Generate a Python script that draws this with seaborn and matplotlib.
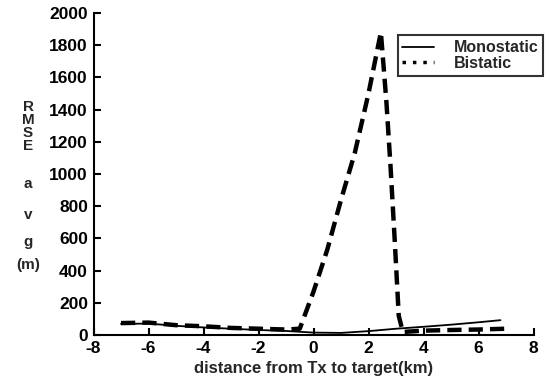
import numpy as np
import pandas as pd
import matplotlib
matplotlib.use("Agg")
import matplotlib.pyplot as plt
from matplotlib.lines import Line2D
import seaborn as sns

# Data
mono_x = [-7, -6, -5, -4, -3, -2, -1, 0, 1, 2, 3, 4, 5, 6, 6.8]
mono_y = [70, 72, 58, 48, 40, 32, 26, 16, 14, 25, 40, 52, 65, 80, 93]

bi_x = [-7, -6, -5, -4, -3, -2, -1, -0.5, 0, 0.5, 1, 1.5, 2, 2.45,
        2.65, 2.8, 2.95, 3.1, 3.25, 4, 5, 6, 7]
bi_y = [75, 78, 62, 55, 45, 40, 35, 40, 270, 530, 840, 1130, 1500, 1880,
        1450, 1050, 600, 120, 20, 28, 32, 35, 40]

series_names = ["Monostatic", "Bistatic"]
x_ticks = [-8, -6, -4, -2, 0, 2, 4, 6, 8]
y_ticks = [0, 200, 400, 600, 800, 1000, 1200, 1400, 1600, 1800, 2000]
ylabel_parts = ["R", "M", "S", "E", "a", "v", "g", "(m)"]
xlabel = "distance from Tx to target(km)"

df = pd.concat([
    pd.DataFrame({"x": mono_x, "y": mono_y, "series": series_names[0]}),
    pd.DataFrame({"x": bi_x, "y": bi_y, "series": series_names[1]}),
])

sns.set_style("ticks")
plt.rcParams["font.family"] = ["Liberation Sans", "DejaVu Sans"]
plt.rcParams["font.weight"] = "bold"

fig = plt.figure(figsize=(5.5, 3.92), dpi=100)
ax = fig.add_axes([0.170, 0.145, 0.800, 0.822])

sns.lineplot(data=df[df.series == series_names[0]], x="x", y="y",
             color="black", linewidth=1.3, ax=ax, legend=False, sort=False)
sns.lineplot(data=df[df.series == series_names[1]], x="x", y="y",
             color="black", linewidth=3.2, ax=ax, legend=False, sort=False)
ax.lines[1].set_dashes((3.2, 1.6))

ax.set_xlim(-8, 8)
ax.set_ylim(0, 2000)
ax.set_xticks(x_ticks)
ax.set_yticks(y_ticks)
ax.set_xticklabels([str(t) for t in x_ticks], fontsize=12.5, fontweight="bold")
ax.set_yticklabels([str(t) for t in y_ticks], fontsize=12.5, fontweight="bold")
ax.tick_params(direction="in", length=5, width=1.5, pad=4, colors="black")
for s in ["top", "right"]:
    ax.spines[s].set_visible(False)
for s in ["left", "bottom"]:
    ax.spines[s].set_linewidth(1.5)
    ax.spines[s].set_color("black")

ax.set_xlabel(xlabel, fontsize=12, fontweight="bold", labelpad=4)
ax.set_ylabel("")

# stacked vertical y-label letters
ypos_px = [107, 120, 133, 146, 184, 215, 242, 265]
for t, yp in zip(ylabel_parts, ypos_px):
    fig.text(28 / 550, 1 - yp / 392, t, ha="center", va="center",
             fontsize=11, fontweight="bold")

handles = [Line2D([], [], color="black", linewidth=1.3),
           Line2D([], [], color="black", linewidth=2.5, linestyle=(0, (1, 2)))]
leg = ax.legend(handles, series_names, loc="upper right",
                bbox_to_anchor=(1.04, 0.955), frameon=True, fancybox=False,
                edgecolor="black", fontsize=11.5, handlelength=2.0,
                borderpad=0.3, labelspacing=0.05, handletextpad=1.2)
leg.get_frame().set_linewidth(1.5)
for t in leg.get_texts():
    t.set_fontweight("bold")

fig.savefig("out.png", dpi=100)
